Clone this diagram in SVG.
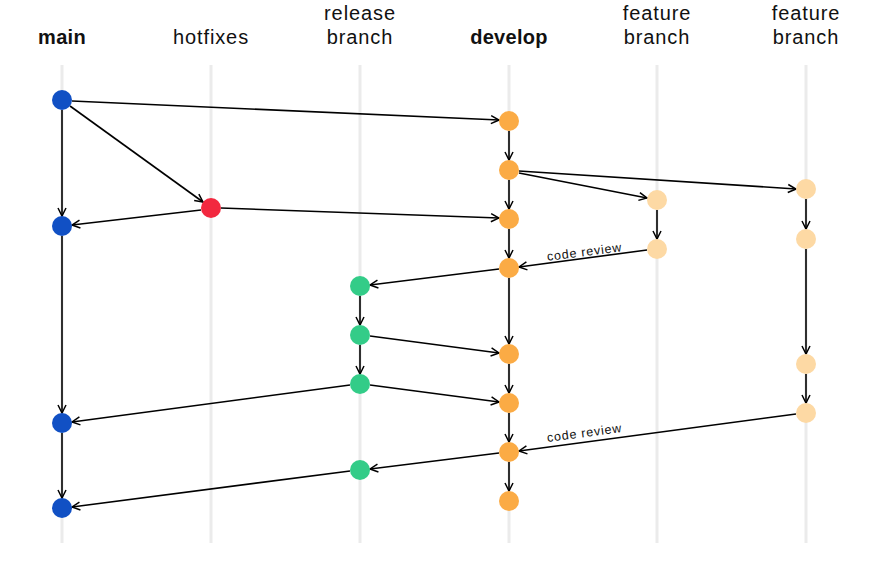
<svg xmlns="http://www.w3.org/2000/svg" width="874" height="577" viewBox="0 0 874 577">
<style>
.lane{stroke:#ebebeb;stroke-width:3}
.hd{font-family:"Liberation Sans",Arial,sans-serif;font-size:20px;letter-spacing:0.9px;fill:#111;text-anchor:middle}
.b{font-weight:bold;letter-spacing:0.3px}
.e{stroke:#000;stroke-width:1.6;fill:none;marker-end:url(#ah)}
.lbl{font-family:"Liberation Sans",Arial,sans-serif;font-size:12.5px;letter-spacing:0.8px;fill:#111;text-anchor:middle}
.m{fill:#1150c4}.h{fill:#f2283f}.r{fill:#33cc88}.d{fill:#fbab45}.f{fill:#fdd9a4}
</style>
<defs>
<marker id="ah" viewBox="0 0 10 10" refX="9" refY="5" markerWidth="10" markerHeight="10" markerUnits="userSpaceOnUse" orient="auto">
<path d="M1,1 L9,5 L1,9" fill="none" stroke="#000" stroke-width="1.5"/>
</marker>
</defs>
<rect width="874" height="577" fill="#fff"/>
<g id="lanes">
<line class="lane" x1="62" y1="65" x2="62" y2="543"/>
<line class="lane" x1="211" y1="65" x2="211" y2="543"/>
<line class="lane" x1="360" y1="65" x2="360" y2="543"/>
<line class="lane" x1="509" y1="65" x2="509" y2="543"/>
<line class="lane" x1="657" y1="65" x2="657" y2="543"/>
<line class="lane" x1="806" y1="65" x2="806" y2="543"/>
</g>
<g id="headers">
<text class="hd b" x="62" y="44">main</text>
<text class="hd" x="211" y="44">hotfixes</text>
<text class="hd" x="360" y="20">release</text>
<text class="hd" x="360" y="44">branch</text>
<text class="hd b" x="509" y="44">develop</text>
<text class="hd" x="657" y="20">feature</text>
<text class="hd" x="657" y="44">branch</text>
<text class="hd" x="806" y="20">feature</text>
<text class="hd" x="806" y="44">branch</text>
</g>
<g id="connectors">
<line class="e" x1="72" y1="101" x2="499" y2="120"/>
<line class="e" x1="70" y1="106" x2="203" y2="202"/>
<line class="e" x1="62" y1="110" x2="62" y2="216"/>
<line class="e" x1="201" y1="210" x2="72" y2="225"/>
<line class="e" x1="221" y1="208" x2="499" y2="218"/>
<line class="e" x1="509" y1="131" x2="509" y2="160"/>
<line class="e" x1="509" y1="180" x2="509" y2="209"/>
<line class="e" x1="509" y1="229" x2="509" y2="258"/>
<line class="e" x1="509" y1="278" x2="509" y2="344"/>
<line class="e" x1="509" y1="364" x2="509" y2="393"/>
<line class="e" x1="509" y1="413" x2="509" y2="442"/>
<line class="e" x1="509" y1="462" x2="509" y2="491"/>
<line class="e" x1="519" y1="173" x2="647" y2="198"/>
<line class="e" x1="519" y1="171" x2="796" y2="189"/>
<line class="e" x1="657" y1="210" x2="657" y2="239"/>
<line class="e" x1="647" y1="250" x2="519" y2="267"/>
<line class="e" x1="806" y1="199" x2="806" y2="229"/>
<line class="e" x1="806" y1="249" x2="806" y2="354"/>
<line class="e" x1="806" y1="374" x2="806" y2="403"/>
<line class="e" x1="796" y1="414" x2="519" y2="451"/>
<line class="e" x1="499" y1="269" x2="370" y2="285"/>
<line class="e" x1="360" y1="296" x2="360" y2="325"/>
<line class="e" x1="360" y1="345" x2="360" y2="374"/>
<line class="e" x1="370" y1="336" x2="499" y2="353"/>
<line class="e" x1="370" y1="385" x2="499" y2="402"/>
<line class="e" x1="350" y1="385" x2="72" y2="422"/>
<line class="e" x1="62" y1="236" x2="62" y2="413"/>
<line class="e" x1="62" y1="433" x2="62" y2="498"/>
<line class="e" x1="499" y1="453" x2="370" y2="469"/>
<line class="e" x1="350" y1="471" x2="72" y2="507"/>
<text class="lbl" transform="translate(585,256) rotate(-7.3)">code review</text>
<text class="lbl" transform="translate(585,437) rotate(-7.5)">code review</text>
</g>
<g id="n-main0"><circle class="m" cx="62" cy="100" r="10"/></g>
<g id="n-main1"><circle class="m" cx="62" cy="226" r="10"/></g>
<g id="n-main2"><circle class="m" cx="62" cy="423" r="10"/></g>
<g id="n-main3"><circle class="m" cx="62" cy="508" r="10"/></g>
<g id="n-hotfix"><circle class="h" cx="211" cy="208" r="10"/></g>
<g id="n-rel0"><circle class="r" cx="360" cy="286" r="10"/></g>
<g id="n-rel1"><circle class="r" cx="360" cy="335" r="10"/></g>
<g id="n-rel2"><circle class="r" cx="360" cy="384" r="10"/></g>
<g id="n-rel3"><circle class="r" cx="360" cy="470" r="10"/></g>
<g id="n-dev0"><circle class="d" cx="509" cy="121" r="10"/></g>
<g id="n-dev1"><circle class="d" cx="509" cy="170" r="10"/></g>
<g id="n-dev2"><circle class="d" cx="509" cy="219" r="10"/></g>
<g id="n-dev3"><circle class="d" cx="509" cy="268" r="10"/></g>
<g id="n-dev4"><circle class="d" cx="509" cy="354" r="10"/></g>
<g id="n-dev5"><circle class="d" cx="509" cy="403" r="10"/></g>
<g id="n-dev6"><circle class="d" cx="509" cy="452" r="10"/></g>
<g id="n-dev7"><circle class="d" cx="509" cy="501" r="10"/></g>
<g id="n-f1a"><circle class="f" cx="657" cy="200" r="10"/></g>
<g id="n-f1b"><circle class="f" cx="657" cy="249" r="10"/></g>
<g id="n-f2a"><circle class="f" cx="806" cy="189" r="10"/></g>
<g id="n-f2b"><circle class="f" cx="806" cy="239" r="10"/></g>
<g id="n-f2c"><circle class="f" cx="806" cy="364" r="10"/></g>
<g id="n-f2d"><circle class="f" cx="806" cy="413" r="10"/></g>
</svg>
